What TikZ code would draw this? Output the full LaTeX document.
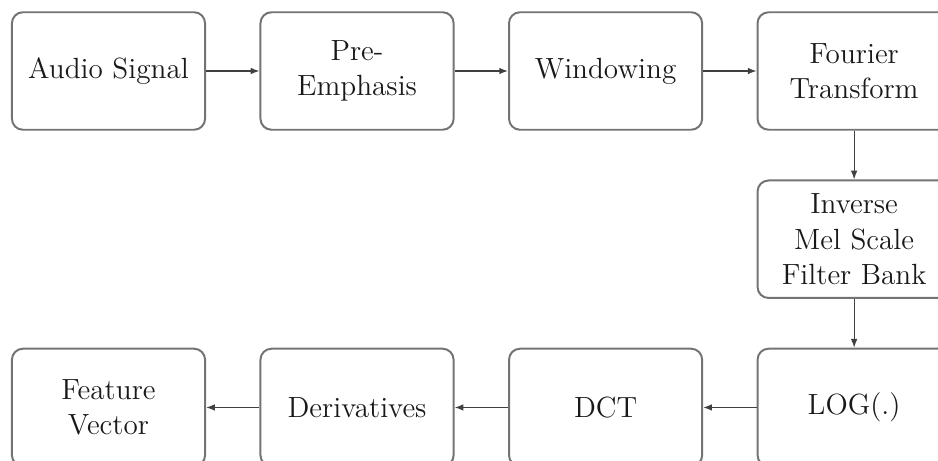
\documentclass[tikz,border=0pt]{standalone}
\usepackage{tikz}
\usetikzlibrary{positioning,arrows.meta}
\tikzstyle{block}=[draw=black!55, line width=0.9pt, rounded corners=5pt, minimum width=3.09cm, minimum height=1.88cm, align=center, font=\fontsize{13.3}{16}\selectfont, text=black!90, inner sep=2pt]
\tikzstyle{connect}=[-{Latex[length=4pt,width=3pt]}, draw=black!75, line width=0.55pt]

\begin{document}
\begin{tikzpicture}[node distance=0.78cm and 0.855cm]

    \useasboundingbox (0,0) rectangle (15.008,-7.36);
    \clip (0,0) rectangle (15.008,-7.36);

    % first row
    \node[block] (audio) at (1.736,-1.136) {Audio Signal};
    \node[block, right=of audio] (emph) {Pre-\\Emphasis};
    \node[block, right=of emph] (window) {Windowing};
    \node[block, right=of window] (fourier) {Fourier\\Transform};

    % second row
    \node[block, below=of fourier] (mel) {Inverse\\Mel Scale\\Filter Bank};

    % third row
    \node[block, below=of mel] (log) {LOG(.)};
    \node[block, left=of log] (dct) {DCT};
    \node[block, left=of dct] (deriv) {Derivatives};
    \node[block, left=of deriv] (feat) {Feature\\Vector};

    % Connect the nodes
    \path
        (audio) edge [connect] (emph)
        (emph) edge [connect] (window)
        (window) edge [connect] (fourier)
        (fourier) edge [connect] (mel)
        (mel) edge [connect] (log)
        (log) edge [connect] (dct)
        (dct) edge [connect] (deriv)
        (deriv) edge [connect] (feat)
        ;
\end{tikzpicture}
\end{document}
